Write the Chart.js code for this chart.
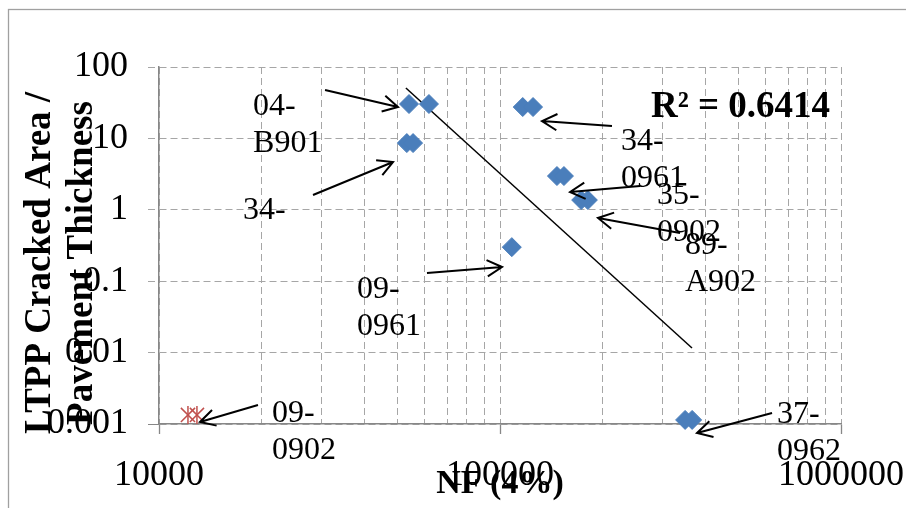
<!DOCTYPE html>
<html><head><meta charset="utf-8">
<script src="https://cdn.jsdelivr.net/npm/chart.js@4/dist/chart.umd.min.js"></script>
<style>html,body{margin:0;padding:0;background:#fff}</style>
</head><body>
<canvas id="c" width="906" height="508"></canvas>
<script>
// ---------- data ----------
const xTickValues = [10000,20000,30000,40000,50000,60000,70000,80000,90000,
                     100000,200000,300000,400000,500000,600000,700000,800000,900000,1000000];
const xLabelValues = [10000, 100000, 1000000];
const xLabelTexts  = ['10000', '100000', '1000000'];
const yTickValues  = [0.001, 0.01, 0.1, 1, 10, 100];
const yTickTexts   = ['0.001', '0.01', '0.1', '1', '10', '100'];

// LTPP sections (blue diamonds)
const sectionNF   = [54100, 61900, 53300, 55600, 116600, 125000, 146900, 154000, 173000, 181000, 108300, 349000, 366000];
const sectionCrack= [30.3, 30.3, 8.6, 8.6, 27.5, 27.5, 2.97, 2.97, 1.37, 1.37, 0.30, 0.00114, 0.00114];
// 09-0902 (red star markers)
const redNF    = [12160, 12920];
const redCrack = [0.00134, 0.00134];
// power trend line end points
const trendNF    = [52970, 365600];
const trendCrack = [50.8, 0.0116];
const r2Text = 'R² = 0.6414';

// section labels (text left / baseline, in data units)
const labelLines = [['04-','B901'], ['34-'], ['34-','0961'], ['35-','0902'], ['89-','A902'], ['09-','0961'], ['09-','0902'], ['37-','0962']];
const labelNF    = [18870, 17630, 226300, 288700, 348700, 38070, 21450, 649200];
const labelCrack = [21.3, 0.743, 6.88, 1.206, 0.2404, 0.0582, 0.001067, 0.001033];
// arrows tail -> head (data units)
const arrowFromNF    = [30680, 28290, 213000, 257400, 337200, 61070, 19510, 627700];
const arrowFromCrack = [47.6, 1.612, 14.9, 2.154, 0.473, 0.1303, 0.001845, 0.001426];
const arrowToNF      = [50220, 48560, 132800, 160500, 193800, 101400, 13190, 378200];
const arrowToCrack   = [27.5, 4.67, 17.5, 1.775, 0.768, 0.1581, 0.001067, 0.000748];

const yTitleLines = ['LTPP Cracked Area /', 'Pavement Thickness'];
const xTitleText = 'NF (4%)';

// ---------- styling ----------
const SERIF = '"Liberation Serif", "Times New Roman", serif';
const GRID = '#a6a6a6';
const AXIS = '#878787';

const pts = (xs, ys) => xs.map((x, i) => ({x: x, y: ys[i]}));

const frame = {
  id: 'frame',
  beforeDraw(chart) {
    const ctx = chart.ctx;
    ctx.save();
    ctx.fillStyle = '#fff';
    ctx.fillRect(0, 0, chart.width, chart.height);
    ctx.strokeStyle = '#a0a0a0';
    ctx.lineWidth = 1.3;
    ctx.strokeRect(8.5, 9.5, 1200, 1200);
    ctx.restore();
  }
};

function arrow(ctx, x1, y1, x2, y2) {
  const a = Math.atan2(y2 - y1, x2 - x1);
  const L = 17, s = 0.5;
  ctx.beginPath();
  ctx.moveTo(x1, y1); ctx.lineTo(x2, y2);
  ctx.moveTo(x2 - L * Math.cos(a - s), y2 - L * Math.sin(a - s));
  ctx.lineTo(x2, y2);
  ctx.lineTo(x2 - L * Math.cos(a + s), y2 - L * Math.sin(a + s));
  ctx.stroke();
}

const notes = {
  id: 'notes',
  afterDatasetsDraw(chart) {
    const ctx = chart.ctx, xs = chart.scales.x, ys = chart.scales.y;
    ctx.save();
    ctx.strokeStyle = '#000';
    ctx.lineWidth = 2;
    ctx.lineCap = 'butt';
    for (let i = 0; i < arrowFromNF.length; i++) {
      arrow(ctx, xs.getPixelForValue(arrowFromNF[i]), ys.getPixelForValue(arrowFromCrack[i]),
                 xs.getPixelForValue(arrowToNF[i]), ys.getPixelForValue(arrowToCrack[i]));
    }
    ctx.fillStyle = '#000';
    ctx.font = '32px ' + SERIF;
    ctx.textAlign = 'left';
    ctx.textBaseline = 'alphabetic';
    for (let i = 0; i < labelLines.length; i++) {
      const lx = xs.getPixelForValue(labelNF[i]);
      const ly = ys.getPixelForValue(labelCrack[i]);
      labelLines[i].forEach((t, k) => ctx.fillText(t, lx, ly + k * 37));
    }
    ctx.font = 'bold 37px ' + SERIF;
    ctx.textAlign = 'right';
    ctx.fillText(r2Text, xs.getPixelForValue(928800), ys.getPixelForValue(19.9));
    // y axis title
    ctx.font = 'bold 37px ' + SERIF;
    ctx.textAlign = 'center';
    ctx.textBaseline = 'middle';
    const cy = 263;
    [40, 82].forEach((cx, k) => {
      ctx.save();
      ctx.translate(cx, cy);
      ctx.rotate(-Math.PI / 2);
      ctx.fillText(yTitleLines[k], 0, 0);
      ctx.restore();
    });
    ctx.restore();
  }
};

new Chart(document.getElementById('c'), {
  type: 'scatter',
  data: {
    datasets: [
      { label: 'Sections', data: pts(sectionNF, sectionCrack), pointStyle: 'rectRot',
        pointRadius: 9.5, backgroundColor: '#4a7ebb', borderColor: '#4a7ebb', borderWidth: 1, clip: false },
      { label: '09-0902', data: pts(redNF, redCrack), pointStyle: 'crossRot',
        pointRadius: 10, borderColor: '#c0504d', borderWidth: 1.5, clip: false },
      { label: '09-0902 bar', data: pts(redNF, redCrack), pointStyle: 'line', rotation: 90,
        pointRadius: 9, borderColor: '#c0504d', borderWidth: 1.5, clip: false },
      { label: 'Power trend', type: 'line', data: pts(trendNF, trendCrack), showLine: true,
        pointRadius: 0, borderColor: '#000', borderWidth: 1.5, fill: false, clip: false }
    ]
  },
  options: {
    responsive: false,
    animation: false,
    events: [],
    layout: { padding: { left: 0, top: 67, right: 65, bottom: 0 } },
    plugins: { legend: { display: false }, tooltip: { enabled: false }, title: { display: false } },
    scales: {
      x: {
        type: 'logarithmic', position: 'bottom', min: 10000, max: 1000000,
        afterBuildTicks: s => { s.ticks = xTickValues.map(v => ({ value: v })); },
        afterFit: s => { s.height = 84; s.paddingLeft = 0; s.paddingRight = 0; },
        ticks: {
          autoSkip: false, maxRotation: 0, minRotation: 0, padding: 20, color: '#000',
          font: { family: SERIF, size: 36 },
          callback: v => { const i = xLabelValues.indexOf(v); return i >= 0 ? xLabelTexts[i] : ''; }
        },
        grid: {
          color: GRID, lineWidth: 1, tickLength: 10, tickWidth: 1.3,
          tickColor: c => (c.tick && xLabelValues.indexOf(c.tick.value) >= 0) ? AXIS : 'rgba(0,0,0,0)'
        },
        border: { display: true, color: AXIS, width: 1.5, dash: [7, 4] },
        title: { display: true, text: xTitleText, color: '#000', padding: { top: 0, bottom: 3 },
                 font: { family: SERIF, size: 34, weight: 'bold' } }
      },
      y: {
        type: 'logarithmic', position: 'left', min: 0.001, max: 100,
        afterBuildTicks: s => { s.ticks = yTickValues.map(v => ({ value: v })); },
        afterFit: s => { s.width = 159; s.paddingTop = 0; s.paddingBottom = 0; },
        ticks: {
          autoSkip: false, padding: 20, color: '#000',
          font: { family: SERIF, size: 36 },
          callback: v => { const i = yTickValues.indexOf(v); return i >= 0 ? yTickTexts[i] : ''; }
        },
        grid: {
          color: GRID, lineWidth: 1, tickLength: 11,
          tickColor: c => (c.tick && c.tick.value === 0.001) ? AXIS : GRID,
          tickWidth: 1,
          tickBorderDash: c => (c.tick && c.tick.value === 0.001) ? [] : [7, 4]
        },
        border: { display: true, color: AXIS, width: 1.5, dash: [7, 4] },
        title: { display: false }
      }
    }
  },
  plugins: [frame, notes]
});
</script>
</body></html>
